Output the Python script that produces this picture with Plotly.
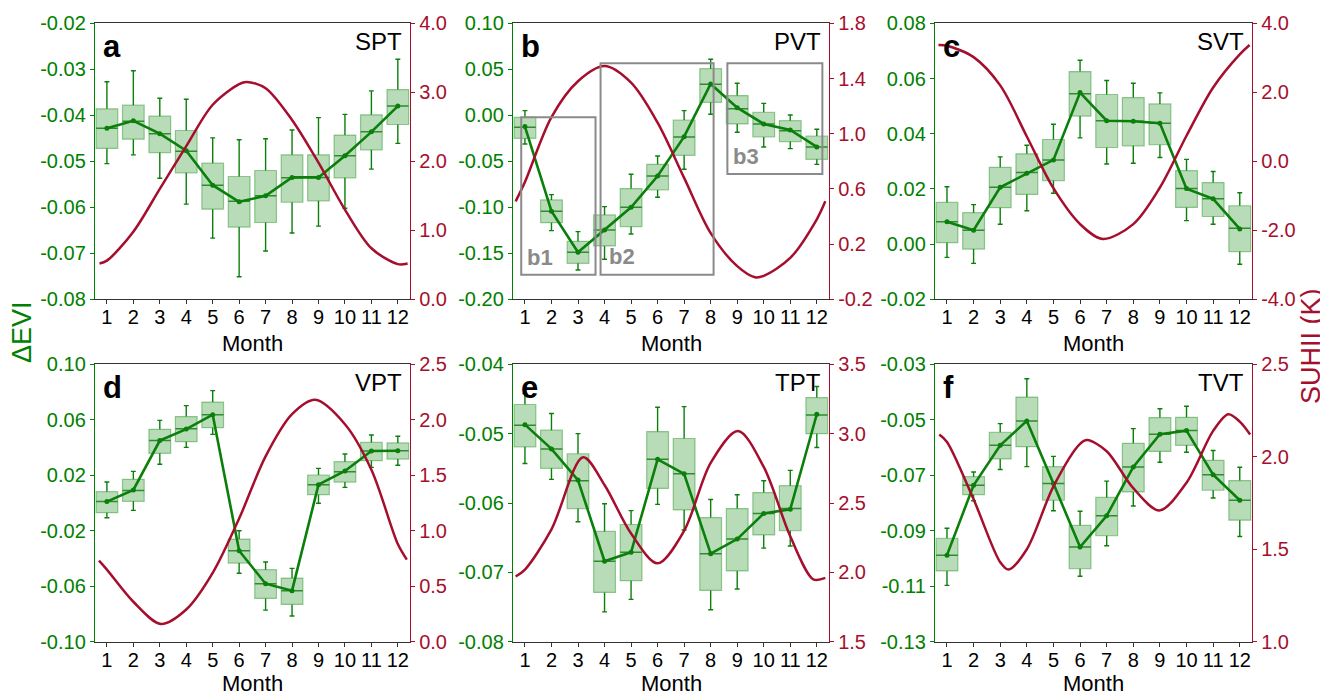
import numpy as np
import plotly.graph_objects as go

# ---------------- data ----------------
months = list(range(1, 13))
panel_letters = ["a", "b", "c", "d", "e", "f"]
panel_names = ["SPT", "PVT", "SVT", "VPT", "TPT", "TVT"]

# ΔEVI box statistics (upper whisker, Q3, median, Q1, lower whisker, mean)
SPT_hi = [-0.0327, -0.0303, -0.0363, -0.0365, -0.0449, -0.0453, -0.0451, -0.0432, -0.0405, -0.0398, -0.0347, -0.0278]
SPT_q3 = [-0.0386, -0.0378, -0.0402, -0.0433, -0.0504, -0.0533, -0.0520, -0.0486, -0.0486, -0.0443, -0.0399, -0.0344]
SPT_med = [-0.0428, -0.0413, -0.0440, -0.0478, -0.0552, -0.0587, -0.0575, -0.0536, -0.0535, -0.0488, -0.0436, -0.0380]
SPT_q1 = [-0.0472, -0.0452, -0.0481, -0.0525, -0.0604, -0.0643, -0.0633, -0.0589, -0.0586, -0.0536, -0.0475, -0.0420]
SPT_lo = [-0.0505, -0.0486, -0.0537, -0.0593, -0.0667, -0.0751, -0.0695, -0.0656, -0.0641, -0.0602, -0.0517, -0.0461]
SPT_mean = [-0.0428, -0.0412, -0.0440, -0.0477, -0.0552, -0.0588, -0.0575, -0.0535, -0.0535, -0.0488, -0.0436, -0.0380]

PVT_hi = [0.0051, -0.0862, -0.1264, -0.0993, -0.0641, -0.0442, 0.0051, 0.0609, 0.0348, 0.0130, 0.0004, -0.0152]
PVT_q3 = [-0.0022, -0.0920, -0.1370, -0.1083, -0.0797, -0.0533, -0.0051, 0.0507, 0.0214, 0.0033, -0.0058, -0.0225]
PVT_med = [-0.0130, -0.1043, -0.1489, -0.1246, -0.1000, -0.0660, -0.0236, 0.0337, 0.0072, -0.0094, -0.0167, -0.0344]
PVT_q1 = [-0.0250, -0.1167, -0.1609, -0.1420, -0.1210, -0.0812, -0.0435, 0.0141, -0.0094, -0.0236, -0.0286, -0.0478]
PVT_lo = [-0.0312, -0.1254, -0.1681, -0.1565, -0.1290, -0.0891, -0.0587, 0.0011, -0.0185, -0.0344, -0.0362, -0.0533]
PVT_mean = [-0.0123, -0.1043, -0.1489, -0.1246, -0.1000, -0.0660, -0.0232, 0.0341, 0.0083, -0.0094, -0.0159, -0.0344]

SVT_hi = [0.0208, 0.0143, 0.0316, 0.0358, 0.0434, 0.0666, 0.0593, 0.0583, 0.0548, 0.0307, 0.0263, 0.0186]
SVT_q3 = [0.0151, 0.0114, 0.0278, 0.0327, 0.0379, 0.0625, 0.0542, 0.0531, 0.0508, 0.0266, 0.0223, 0.0139]
SVT_med = [0.0081, 0.0050, 0.0206, 0.0259, 0.0305, 0.0545, 0.0447, 0.0445, 0.0438, 0.0201, 0.0164, 0.0057]
SVT_q1 = [0.0005, -0.0018, 0.0132, 0.0180, 0.0230, 0.0464, 0.0350, 0.0356, 0.0360, 0.0133, 0.0100, -0.0027]
SVT_lo = [-0.0048, -0.0070, 0.0072, 0.0121, 0.0184, 0.0385, 0.0290, 0.0293, 0.0314, 0.0085, 0.0072, -0.0073]
SVT_mean = [0.0081, 0.0050, 0.0206, 0.0257, 0.0305, 0.0549, 0.0447, 0.0445, 0.0438, 0.0201, 0.0164, 0.0055]

VPT_hi = [0.0151, 0.0228, 0.0596, 0.0702, 0.0810, -0.0200, -0.0425, -0.0471, 0.0250, 0.0353, 0.0490, 0.0481]
VPT_q3 = [0.0082, 0.0171, 0.0531, 0.0623, 0.0728, -0.0260, -0.0481, -0.0541, 0.0202, 0.0298, 0.0437, 0.0433]
VPT_med = [0.0010, 0.0091, 0.0450, 0.0536, 0.0637, -0.0344, -0.0582, -0.0632, 0.0132, 0.0226, 0.0375, 0.0377]
VPT_q1 = [-0.0070, 0.0012, 0.0358, 0.0442, 0.0543, -0.0433, -0.0688, -0.0731, 0.0060, 0.0151, 0.0305, 0.0317]
VPT_lo = [-0.0106, -0.0053, 0.0279, 0.0401, 0.0495, -0.0507, -0.0772, -0.0815, -0.0002, 0.0113, 0.0257, 0.0272]
VPT_mean = [0.0010, 0.0094, 0.0450, 0.0533, 0.0637, -0.0344, -0.0582, -0.0632, 0.0132, 0.0231, 0.0375, 0.0377]

TPT_hi = [-0.0442, -0.0471, -0.0500, -0.0601, -0.0611, -0.0462, -0.0461, -0.0595, -0.0588, -0.0568, -0.0553, -0.0432]
TPT_q3 = [-0.0458, -0.0495, -0.0529, -0.0641, -0.0631, -0.0497, -0.0507, -0.0621, -0.0608, -0.0585, -0.0575, -0.0448]
TPT_med = [-0.0488, -0.0522, -0.0568, -0.0684, -0.0671, -0.0537, -0.0558, -0.0673, -0.0652, -0.0615, -0.0608, -0.0473]
TPT_q1 = [-0.0519, -0.0550, -0.0608, -0.0729, -0.0712, -0.0579, -0.0610, -0.0726, -0.0698, -0.0646, -0.0640, -0.0500]
TPT_lo = [-0.0543, -0.0566, -0.0627, -0.0757, -0.0739, -0.0602, -0.0639, -0.0754, -0.0724, -0.0665, -0.0662, -0.0520]
TPT_mean = [-0.0487, -0.0522, -0.0567, -0.0684, -0.0671, -0.0537, -0.0558, -0.0673, -0.0652, -0.0615, -0.0609, -0.0472]

TVT_hi = [-0.0891, -0.0688, -0.0514, -0.0352, -0.0632, -0.0830, -0.0721, -0.0532, -0.0460, -0.0451, -0.0611, -0.0671]
TVT_q3 = [-0.0927, -0.0705, -0.0545, -0.0418, -0.0669, -0.0881, -0.0780, -0.0585, -0.0492, -0.0491, -0.0646, -0.0719]
TVT_med = [-0.0988, -0.0736, -0.0592, -0.0504, -0.0730, -0.0959, -0.0846, -0.0670, -0.0552, -0.0539, -0.0698, -0.0790]
TVT_q1 = [-0.1045, -0.0770, -0.0641, -0.0597, -0.0790, -0.1037, -0.0918, -0.0760, -0.0614, -0.0592, -0.0754, -0.0862]
TVT_lo = [-0.1097, -0.0792, -0.0679, -0.0669, -0.0828, -0.1064, -0.0954, -0.0811, -0.0653, -0.0617, -0.0782, -0.0921]
TVT_mean = [-0.0988, -0.0736, -0.0592, -0.0504, -0.0730, -0.0959, -0.0846, -0.0670, -0.0552, -0.0539, -0.0698, -0.0790]

# SUHII curves (month, K)
SPT_curve_m = [0.72, 1, 2, 3, 4, 5, 6, 6.29, 7, 8, 9, 10, 11, 12, 12.37]
SPT_curve_v = [0.52, 0.56, 0.98, 1.60, 2.22, 2.82, 3.12, 3.15, 3.06, 2.60, 1.98, 1.30, 0.74, 0.51, 0.52]
PVT_curve_m = [0.65, 1, 2, 3, 4, 5, 6, 7, 8, 9, 9.67, 10, 11, 12, 12.32]
PVT_curve_v = [0.51, 0.65, 1.12, 1.38, 1.49, 1.37, 1.08, 0.68, 0.28, 0.04, -0.04, -0.03, 0.10, 0.38, 0.51]
SVT_curve_m = [0.68, 1, 2, 3, 4, 5, 6, 6.85, 8, 9, 10, 11, 12, 12.37]
SVT_curve_v = [3.37, 3.35, 3.02, 2.20, 0.72, -0.78, -1.82, -2.25, -1.82, -0.76, 0.74, 2.14, 3.10, 3.37]
VPT_curve_m = [0.70, 1, 2, 3.04, 4, 5, 6, 7, 8, 8.88, 10, 11, 12, 12.34]
VPT_curve_v = [0.73, 0.65, 0.36, 0.16, 0.29, 0.62, 1.11, 1.67, 2.05, 2.18, 1.96, 1.55, 0.88, 0.74]
TPT_curve_m = [0.65, 1, 2, 3.19, 4, 5, 6, 7, 8, 9.03, 10, 11, 11.87, 12.32]
TPT_curve_v = [1.97, 2.02, 2.31, 2.83, 2.63, 2.28, 2.065, 2.30, 2.79, 3.02, 2.76, 2.26, 1.95, 1.96]
TVT_curve_m = [0.71, 1, 2, 3, 3.31, 4, 5, 6, 6.27, 7, 8, 8.98, 10, 11, 11.57, 12, 12.39]
TVT_curve_v = [2.12, 2.08, 1.77, 1.43, 1.39, 1.50, 1.84, 2.07, 2.09, 2.03, 1.83, 1.71, 1.86, 2.14, 2.23, 2.19, 2.12]

# panel b sub-period frames (month start, month end, ΔEVI bottom, ΔEVI top) and labels
b_frames = {"b1": [0.86, 3.66, -0.1732, -0.0022],
            "b2": [3.85, 8.11, -0.1732, 0.0565],
            "b3": [8.63, 12.21, -0.0638, 0.0565]}
b_label_pos = {"b1": [1.57, -0.155], "b2": [4.65, -0.154], "b3": [9.35, -0.045]}

# axis ranges (min, max, step)
evi_axes = [(-0.08, -0.02, 0.01), (-0.20, 0.10, 0.05), (-0.02, 0.08, 0.02),
            (-0.10, 0.10, 0.04), (-0.08, -0.04, 0.01), (-0.13, -0.03, 0.02)]
suhii_axes = [(0.0, 4.0, 1.0), (-0.2, 1.8, 0.4), (-4.0, 4.0, 2.0),
              (0.0, 2.5, 0.5), (1.5, 3.5, 0.5), (1.0, 2.5, 0.5)]

stats = {
    "SPT": (SPT_hi, SPT_q3, SPT_med, SPT_q1, SPT_lo, SPT_mean, SPT_curve_m, SPT_curve_v),
    "PVT": (PVT_hi, PVT_q3, PVT_med, PVT_q1, PVT_lo, PVT_mean, PVT_curve_m, PVT_curve_v),
    "SVT": (SVT_hi, SVT_q3, SVT_med, SVT_q1, SVT_lo, SVT_mean, SVT_curve_m, SVT_curve_v),
    "VPT": (VPT_hi, VPT_q3, VPT_med, VPT_q1, VPT_lo, VPT_mean, VPT_curve_m, VPT_curve_v),
    "TPT": (TPT_hi, TPT_q3, TPT_med, TPT_q1, TPT_lo, TPT_mean, TPT_curve_m, TPT_curve_v),
    "TVT": (TVT_hi, TVT_q3, TVT_med, TVT_q1, TVT_lo, TVT_mean, TVT_curve_m, TVT_curve_v),
}

# ---------------- style ----------------
FONT = "Liberation Sans, Arial, sans-serif"
GREEN = "#008000"
DKGREEN = "#0A7F0A"
RED = "#A50F2D"
AXIS = "#333333"
BOX_FILL = "rgba(0,128,0,0.28)"
BOX_LINE = "rgba(0,128,0,0.38)"
OFF = 8                      # page body margin of the html page
W, H = 1328 - OFF, 697 - OFF


def px_x(p):
    return (p - OFF) / W


def px_y(p):
    return 1 - (p - OFF) / H


xdoms = [(px_x(95), px_x(410)), (px_x(513), px_x(829)), (px_x(935), px_x(1252))]
ydoms = [(px_y(299.3), px_y(23.3)), (px_y(641.7), px_y(364.3))]
month_title_y = [-0.161, -0.152]

fig = go.Figure()
layout = dict(width=W, height=H, autosize=False,
              margin=dict(l=0, r=0, t=0, b=0, pad=0, autoexpand=False),
              paper_bgcolor="white", plot_bgcolor="white", showlegend=False,
              font=dict(family=FONT, color="black"), barmode="overlay")
annotations = []
shapes = []


def nm(base, i):
    return base if i == 1 else f"{base}{i}"


def ticks(lo, hi, step, fmt):
    n = int(round((hi - lo) / step))
    vals = [round(lo + k * step, 4) for k in range(n + 1)]
    return vals, [fmt.format(v) for v in vals]


for p, name in enumerate(panel_names):
    i = p + 1
    j = p + 7
    xa, ya, ya2 = nm("x", i), nm("y", i), f"y{j}"
    hi, q3, med, q1, lo, mean, cm, cv = stats[name]
    hi, q3, med, q1, lo = map(np.array, (hi, q3, med, q1, lo))

    # boxes
    fig.add_trace(go.Bar(x=months, y=q3 - q1, base=q1, width=0.82,
                         marker=dict(color=BOX_FILL, line=dict(color=BOX_LINE, width=1.2)),
                         xaxis=xa, yaxis=ya, hoverinfo="skip"))
    # whiskers
    wx, wy = [], []
    for m, a, b, c, d in zip(months, hi, q3, q1, lo):
        wx += [m, m, None, m, m, None]
        wy += [b, a, None, c, d, None]
    fig.add_trace(go.Scatter(x=wx, y=wy, mode="lines", line=dict(color=DKGREEN, width=1.4),
                             xaxis=xa, yaxis=ya, hoverinfo="skip"))
    fig.add_trace(go.Scatter(x=months + months, y=list(hi) + list(lo), mode="markers",
                             marker=dict(symbol="line-ew", size=3.5,
                                         line=dict(color=DKGREEN, width=1.4)),
                             xaxis=xa, yaxis=ya, hoverinfo="skip"))
    # medians
    fig.add_trace(go.Scatter(x=months, y=med, mode="markers",
                             marker=dict(symbol="line-ew", size=15.5,
                                         line=dict(color="#2E8B2E", width=1.5)),
                             xaxis=xa, yaxis=ya, hoverinfo="skip"))
    # mean line
    fig.add_trace(go.Scatter(x=months, y=mean, mode="lines+markers",
                             line=dict(color=DKGREEN, width=2.6),
                             marker=dict(color=DKGREEN, size=5),
                             xaxis=xa, yaxis=ya))
    # SUHII curve
    fig.add_trace(go.Scatter(x=cm, y=cv, mode="lines",
                             line=dict(color=RED, width=2.5, shape="spline", smoothing=0.9),
                             xaxis=xa, yaxis=ya2))

    col, row = p % 3, p // 3
    xd, yd = xdoms[col], ydoms[row]
    e_lo, e_hi, e_st = evi_axes[p]
    s_lo, s_hi, s_st = suhii_axes[p]
    ev, et = ticks(e_lo, e_hi, e_st, "{:.2f}")
    sv, st = ticks(s_lo, s_hi, s_st, "{:.1f}")

    layout[nm("xaxis", i)] = dict(
        domain=list(xd), anchor=ya, range=[0.55, 12.46], tickvals=months,
        ticktext=[str(m) for m in months], ticks="outside", ticklen=4, tickwidth=1.3,
        tickcolor=AXIS, showline=True, linecolor=AXIS, linewidth=1.3, mirror=True,
        tickfont=dict(size=20, color="black", family=FONT), showgrid=False,
        zeroline=False, fixedrange=True, automargin=False, ticklabelstandoff=-4)
    layout[nm("yaxis", i)] = dict(
        domain=list(yd), anchor=xa, range=[e_lo, e_hi], tickvals=ev, ticktext=et,
        ticks="outside", ticklen=4, tickwidth=1.3, tickcolor=GREEN, showline=True,
        linecolor=GREEN, linewidth=1.4, tickfont=dict(size=20, color=GREEN, family=FONT),
        showgrid=False, zeroline=False, fixedrange=True, automargin=False)
    layout[nm("yaxis", j)] = dict(
        overlaying=ya, side="right", anchor=xa, range=[s_lo, s_hi], tickvals=sv,
        ticktext=st, ticks="outside", ticklen=4, tickwidth=1.3, tickcolor=RED,
        showline=True, linecolor=RED, linewidth=1.4,
        tickfont=dict(size=20, color=RED, family=FONT), showgrid=False,
        zeroline=False, fixedrange=True, automargin=False)

    annotations.append(dict(text=f"<b>{panel_letters[p]}</b>", xref=f"{xa} domain",
                            yref=f"{ya} domain", x=0.018, y=0.915, xanchor="left",
                            yanchor="middle", showarrow=False,
                            font=dict(size=31, color="black", family=FONT)))
    annotations.append(dict(text=name, xref=f"{xa} domain", yref=f"{ya} domain",
                            x=0.98, y=0.933, xanchor="right", yanchor="middle",
                            showarrow=False, font=dict(size=24, color="black", family=FONT)))
    annotations.append(dict(text="Month", xref=f"{xa} domain", yref=f"{ya} domain",
                            x=0.5, y=month_title_y[row], xanchor="center", yanchor="middle",
                            showarrow=False, font=dict(size=22, color="black", family=FONT)))

# panel b frames
for key, (x0, x1, y0, y1) in b_frames.items():
    shapes.append(dict(type="rect", xref="x2", yref="y2", x0=x0, x1=x1, y0=y0, y1=y1,
                       line=dict(color="#8A8A8A", width=2), fillcolor="rgba(0,0,0,0)",
                       layer="above"))
    lx, ly = b_label_pos[key]
    annotations.append(dict(text=f"<b>{key}</b>", xref="x2", yref="y2", x=lx, y=ly,
                            xanchor="center", yanchor="middle", showarrow=False,
                            font=dict(size=22, color="#8A8A8A", family=FONT)))

# shared axis titles
annotations.append(dict(text="ΔEVI", xref="paper", yref="paper", x=px_x(22), y=px_y(332),
                        xanchor="center", yanchor="middle", textangle=-90, showarrow=False,
                        font=dict(size=27, color=GREEN, family=FONT)))
annotations.append(dict(text="SUHII (K)", xref="paper", yref="paper", x=px_x(1311),
                        y=px_y(346), xanchor="center", yanchor="middle", textangle=-90,
                        showarrow=False, font=dict(size=27, color=RED, family=FONT)))

layout["annotations"] = annotations
layout["shapes"] = shapes
fig.update_layout(**layout)
fig.write_html("out.html")
